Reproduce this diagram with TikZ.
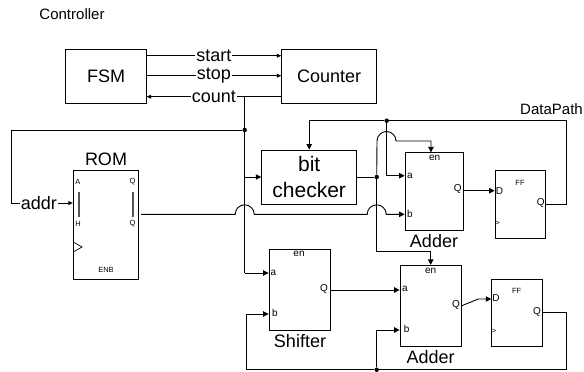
\documentclass[tikz,border=0pt]{standalone}
\usepackage{fontspec}
\setmainfont{Liberation Sans}
\usetikzlibrary{arrows.meta}
\definecolor{linegray}{HTML}{555555}
\tikzset{
  % --- blocks ---
  blk/.style={draw=black, line width=0.9pt, inner sep=0pt, align=center, font=\fontsize{18}{18}\selectfont},
  blkname/.style={inner sep=0pt, font=\fontsize{18}{18}\selectfont},
  note/.style={inner sep=0pt, font=\fontsize{15}{15}\selectfont},
  pinlabel/.style={inner sep=0pt, font=\fontsize{10}{10}\selectfont},
  tinylabel/.style={inner sep=0pt, font=\fontsize{7.5}{7.5}\selectfont},
  % --- wires ---
  wire/.style={draw=black, line width=0.9pt},
  sig/.style={wire, -{Stealth[length=5.5pt,width=5.5pt,inset=0pt]}},
  sigsmall/.style={wire, -{Stealth[length=4.5pt,width=4pt,inset=0pt]}},
  dotnode/.style={circle, fill=black, minimum size=4.5pt, inner sep=0pt},
  onwire/.style={blkname, fill=white, inner xsep=1pt, inner ysep=0pt},
  bar/.style={draw=linegray, line width=1.2pt},
}
\begin{document}
\begin{tikzpicture}[x=1pt, y=-1pt]
  \useasboundingbox (0,0) rectangle (584,372);

  % --- Controller ---
  \node[note] (ctrl) at (72,14.5) {Controller};
  \node[blk, minimum width=81pt, minimum height=54pt] (fsm) at (106.2,76) {FSM};
  \node[blk, minimum width=95pt, minimum height=54pt] (counter) at (329.2,76) {Counter};

  % --- DataPath blocks ---
  \node[note] (dp) at (551.5,109) {DataPath};
  \node[blkname] (romname) at (106,159) {ROM};
  \node[blk, minimum width=65pt, minimum height=108.3pt] (rom) at (105.8,224.9) {};
  \node[blk, font=\fontsize{21}{26}\selectfont, minimum width=95pt, minimum height=54pt] (check) at (309.2,177) {bit\\checker};
  \node[blk, minimum width=58.3pt, minimum height=77.7pt] (adderA) at (434.2,191.2) {};
  \node[blk, minimum width=50.7pt, minimum height=67.6pt] (ffA) at (520.4,204.5) {};
  \node[blk, minimum width=61pt, minimum height=80.7pt] (shift) at (299.5,289.7) {};
  \node[blk, minimum width=61.3pt, minimum height=81pt] (adderB) at (430.7,305.8) {};
  \node[blk, minimum width=51pt, minimum height=67.3pt] (ffB) at (517.2,312.7) {};
  \node[blkname] (adderAname) at (434,240.7) {Adder};
  \node[blkname] (shiftname) at (300,341) {Shifter};
  \node[blkname] (adderBname) at (430.7,357.3) {Adder};

  % --- ROM pins ---
  \node[tinylabel] (romA) at (78,182) {A};
  \node[tinylabel] (romH) at (78,224) {H};
  \node[tinylabel] (romQa) at (132.5,182) {Q};
  \node[tinylabel] (romQb) at (132.5,224) {Q};
  \node[tinylabel] (romenb) at (106,270) {ENB};
  \draw[bar] (79,192) -- (79,217);
  \draw[bar] (133,192) -- (133,217);
  \draw[line width=0.7pt] (73.3,242) -- (82,247) -- (73.3,252);

  % --- pins of the other blocks ---
  \foreach \n/\x/\y/\t in {enA/434.7/157.7/en, aA/410/175.7/a, bA/410/214/b, qA/457.7/189.3/Q,
                           enS/299/254.3/en, aS/273.5/273.3/a, bS/275/313.3/b, qS/324/289.3/Q,
                           enB/430.7/271/en, aB/405/289.3/a, bB/406.7/329/b, qB/456/305/Q,
                           dA/499.5/190.7/D, qFA/540.7/203.3/Q,
                           dB/495.9/298/D, qFB/537/311.7/Q}
      \node[pinlabel] (\n) at (\x,\y) {\t};
  \node[tinylabel] (ffAname) at (520,183) {FF};
  \node[tinylabel] (ffBname) at (516.7,291) {FF};
  \node[tinylabel] (clkA) at (497.5,223.5) {>};
  \node[tinylabel] (clkB) at (494,331.5) {>};

  % --- junctions and bends ---
  \node[dotnode] (jaddr) at (244.7,130) {};
  \node[dotnode] (jcheck) at (376.7,177) {};
  \node[dotnode] (jback) at (386.7,120.7) {};
  \node[dotnode] (jloop) at (376.7,369.7) {};
  \coordinate (tapcount) at (244.7,96.7);
  \coordinate (humpA) at (235.2,214.3);
  \coordinate (humpB) at (367.2,214.3);
  \coordinate (humpC) at (377,141);
  \coordinate (romout) at (141,214.3);

  % --- control signals ---
  \draw[sigsmall] (146.7,55.7) -- node[onwire] (start) {start} (counter.west |- 0,55.7);
  \draw[sigsmall] (146.7,75.7) -- node[onwire] (stop) {stop} (counter.west |- 0,75.7);
  \draw[sigsmall] (counter.west |- 0,96.7) -- node[onwire] (count) {count} (146.7,96.7);

  % --- addr and tap wires ---
  \draw[wire] (tapcount) -- (244.7,273) ;
  \draw[sig] (244.7,273) -- (shift.west |- 0,273);
  \draw[sig] (244.7,177) -- (check.west);
  \draw[sigsmall] (jaddr) -- (11,130) -- (11,203) -- node[onwire, pos=0.45] (addr) {addr} (rom.west |- 0,203);

  % --- ROM to first adder, with humps ---
  \draw[sig] (romout) -- (humpA) arc[start angle=180, end angle=0, radius=9.5pt]
        -- (humpB) arc[start angle=180, end angle=0, radius=9.5pt] -- (adderA.west |- 0,214.3);

  % --- bit checker to both enables ---
  \draw[wire] (check.east) -- (jcheck);
  \draw[sig] (jcheck) -- (humpC) arc[start angle=180, end angle=0, radius=9.5pt] -- (431,141) -- (431,152.3);
  \draw[sig] (jcheck) -- (376.7,251.7) -- (430.7,251.7) -- (adderB.north);

  % --- feedback of the first register ---
  \draw[wire] (ffA.east |- 0,204.3) -- (566,204.3) -- (566,120.7) -- (jback);
  \draw[sig] (jback) -- (309.2,120.7) -- (check.north);
  \draw[sig] (jback) -- (386.7,175.7) -- (adderA.west |- 0,175.7);
  \draw[sig] (adderA.east |- 0,190.7) -- (ffA.west |- 0,190.7);

  % --- lower row ---
  \draw[sig] (shift.east |- 0,290) -- (adderB.west |- 0,290);
  \draw[sig] (adderB.east |- 0,305.7) -- (478.3,299) -- (ffB.west |- 0,299);
  \draw[wire] (ffB.east |- 0,312.3) -- (566.3,312.3) -- (566.3,369.7) -- (jloop);
  \draw[sig] (jloop) -- (246.7,369.7) -- (246.7,314) -- (shift.west |- 0,314);
  \draw[sig] (jloop) -- (376.7,330) -- (adderB.west |- 0,330);
\end{tikzpicture}
\end{document}
